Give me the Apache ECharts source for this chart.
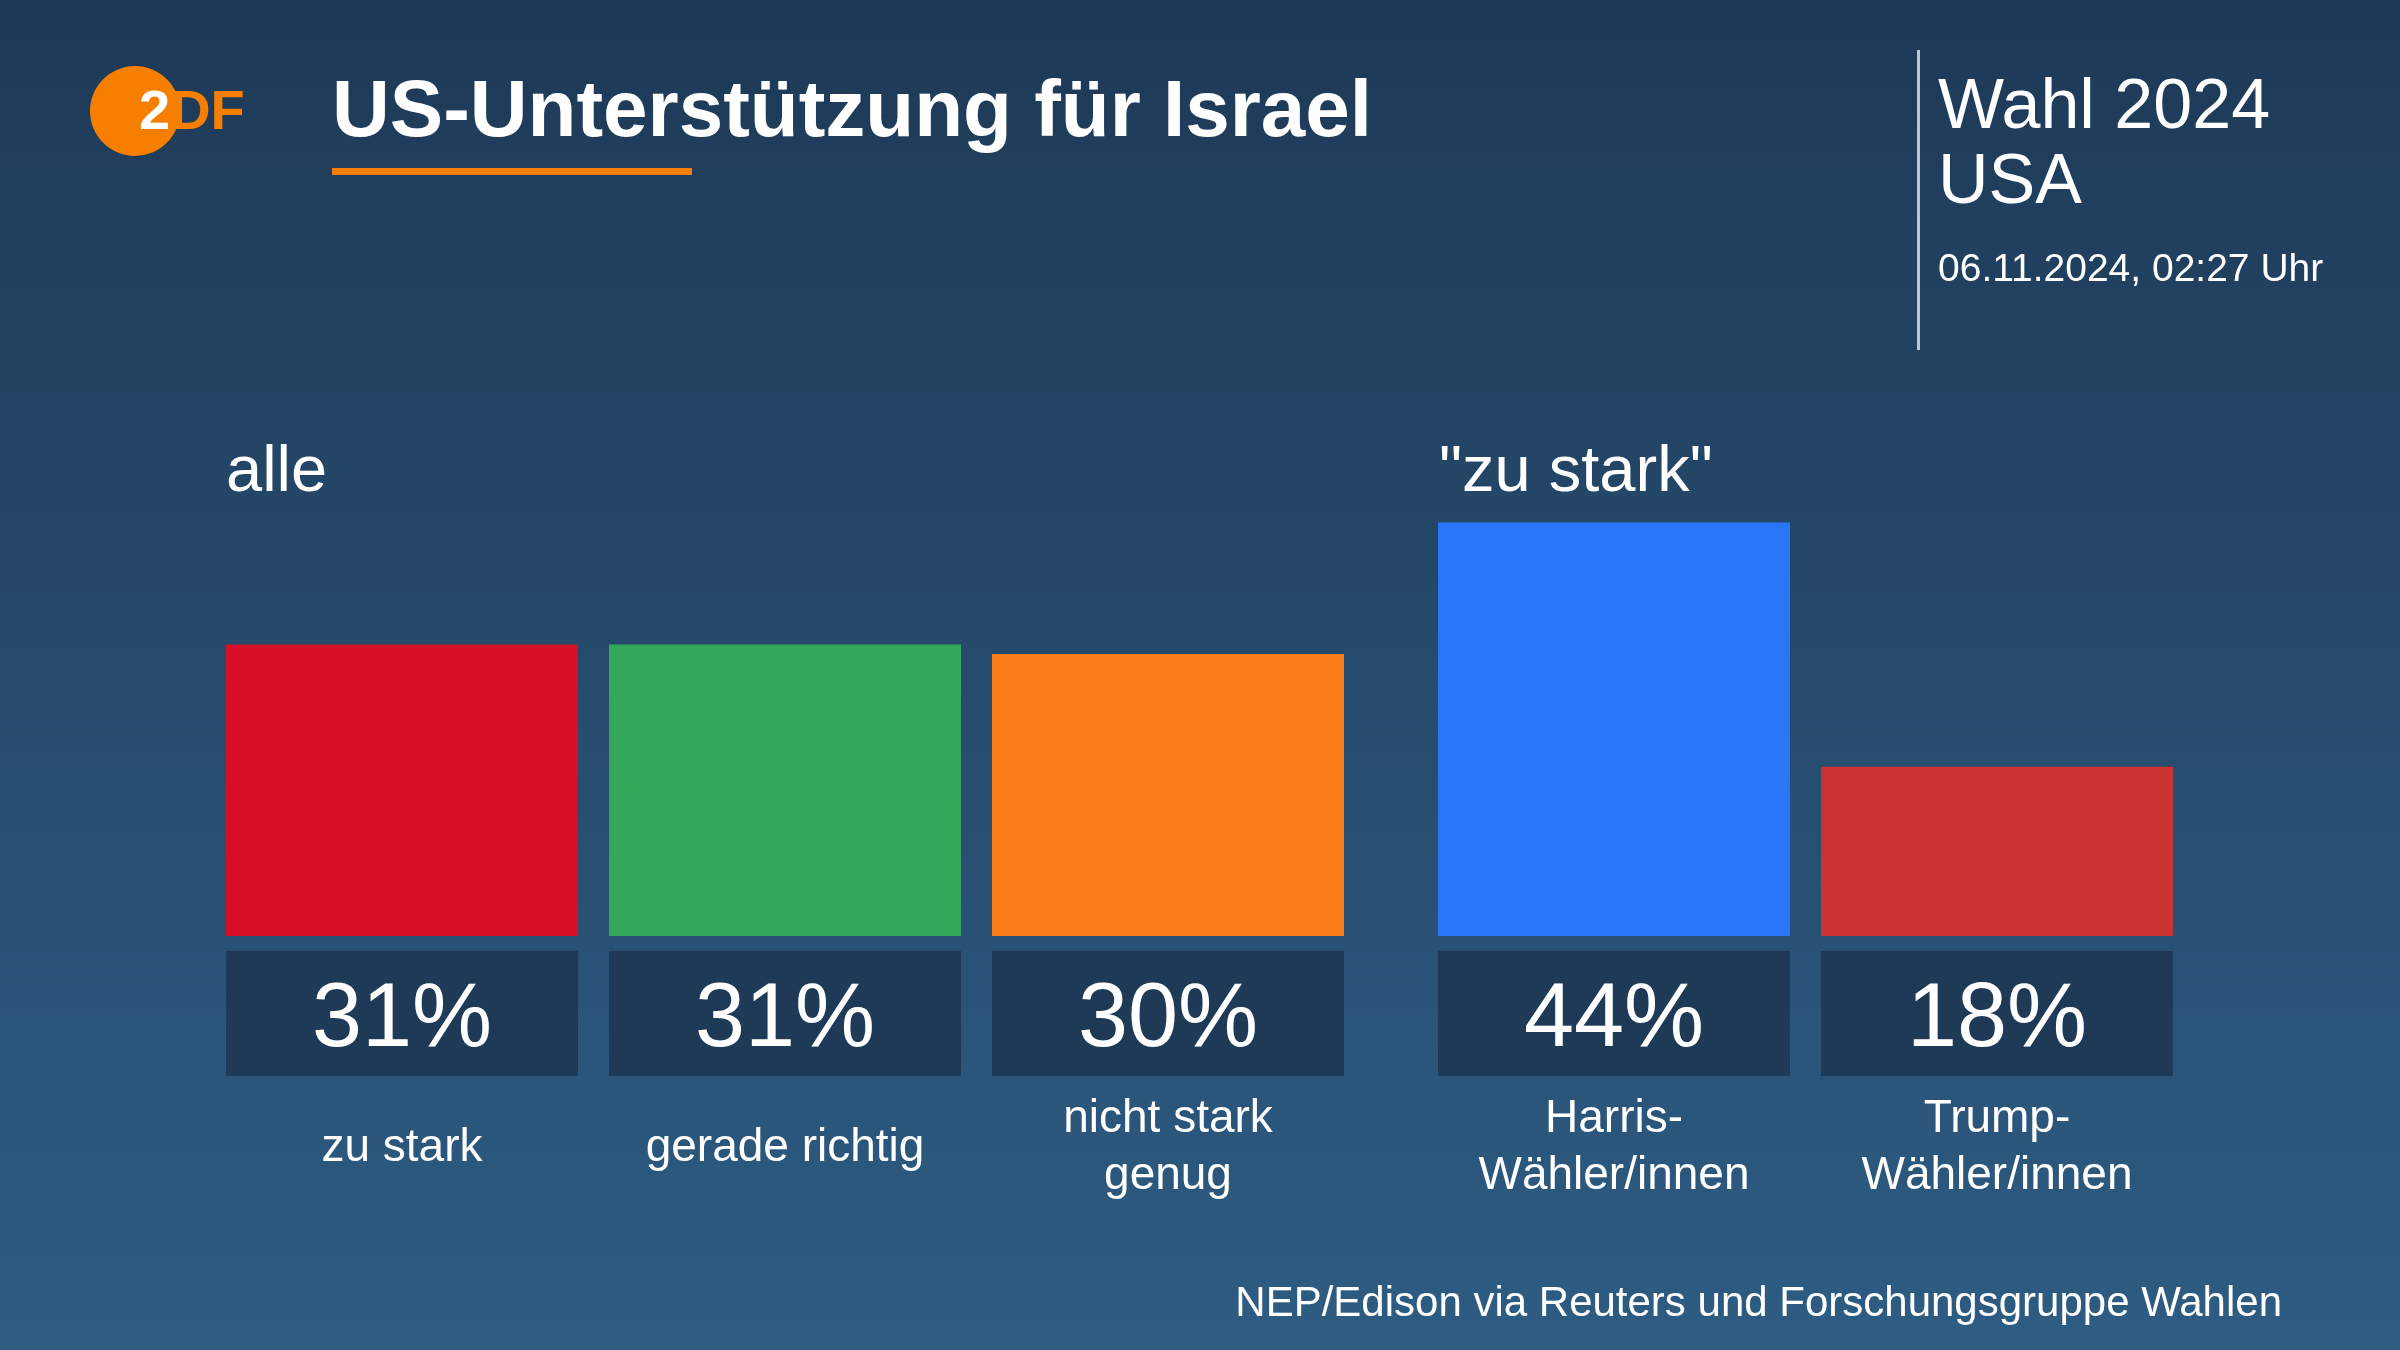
<!DOCTYPE html>
<html><head><meta charset="utf-8">
<script src="https://cdn.jsdelivr.net/npm/echarts@6/dist/echarts.min.js"></script>
<style>html,body{margin:0;padding:0;}#c{width:2400px;height:1350px;}</style>
</head><body><div id="c"></div>
<script>
var groupAllCategories = ['zu stark', 'gerade richtig', 'nicht stark\ngenug'];
var groupAllValues = [31, 31, 30];
var groupAllColors = ['#d50f25', '#33a85a', '#fa7d19'];
var groupStrongCategories = ['Harris-\nWähler/innen', 'Trump-\nWähler/innen'];
var groupStrongValues = [44, 18];
var groupStrongColors = ['#2a76f8', '#cb3333'];
var groupTitles = ['alle', '"zu stark"'];

var FONT = '"Liberation Sans", Arial, sans-serif';
var chart = echarts.init(document.getElementById('c'));

function makeSeries(idx, values, colors) {
  return {
    type: 'bar', xAxisIndex: idx, yAxisIndex: idx, barWidth: 352,
    data: values.map(function (v, i) { return { value: v, itemStyle: { color: colors[i] } }; }),
    label: {
      show: true, position: 'bottom', distance: 15, formatter: '{c}%',
      backgroundColor: '#1e3a57', width: 352, height: 109, lineHeight: 109, padding: [16, 0, 0, 0],
      align: 'center', verticalAlign: 'top',
      color: '#ffffff', fontSize: 90, fontFamily: FONT
    },
    silent: true, animation: false
  };
}
function makeX(idx, cats) {
  return {
    type: 'category', gridIndex: idx, data: cats,
    axisLine: { show: false }, axisTick: { show: false },
    axisLabel: { color: '#ffffff', fontSize: 46, fontFamily: FONT, margin: 212, verticalAlign: 'middle', lineHeight: 57, interval: 0 }
  };
}
function makeY(idx) {
  return { type: 'value', gridIndex: idx, min: 0, max: 50, show: false, splitLine: { show: false } };
}

chart.setOption({
  backgroundColor: {
    type: 'linear', x: 0, y: 0, x2: 0, y2: 1,
    colorStops: [{ offset: 0, color: '#1e3957' }, { offset: 1, color: '#2e5c82' }]
  },
  grid: [
    { left: 210.5, width: 1149, top: 466, height: 470 },
    { left: 1422.5, width: 766, top: 466, height: 470 }
  ],
  xAxis: [makeX(0, groupAllCategories), makeX(1, groupStrongCategories)],
  yAxis: [makeY(0), makeY(1)],
  series: [makeSeries(0, groupAllValues, groupAllColors), makeSeries(1, groupStrongValues, groupStrongColors)],
  graphic: [
    { type: 'circle', shape: { cx: 135, cy: 111, r: 45 }, style: { fill: '#f77f00' } },
    { type: 'text', x: 139, y: 114, style: { text: '{a|2}{b|DF}', verticalAlign: 'middle', rich: {
      a: { fill: '#ffffff', fontSize: 56, fontWeight: 'bold', fontFamily: FONT },
      b: { fill: '#f77f00', fontSize: 56, fontWeight: 'bold', fontFamily: FONT } } } },
    { type: 'text', x: 332, y: 114, style: { text: 'US-Unterstützung für Israel', fill: '#ffffff', fontSize: 80, fontWeight: 'bold', fontFamily: FONT, verticalAlign: 'middle' } },
    { type: 'rect', shape: { x: 332, y: 168, width: 360, height: 7 }, style: { fill: '#f77f00' } },
    { type: 'rect', shape: { x: 1917, y: 50, width: 3, height: 300 }, style: { fill: '#b9c6d3' } },
    { type: 'text', x: 1938, y: 109, style: { text: 'Wahl 2024', fill: '#ffffff', fontSize: 70, fontFamily: FONT, verticalAlign: 'middle' } },
    { type: 'text', x: 1938, y: 184, style: { text: 'USA', fill: '#ffffff', fontSize: 70, fontFamily: FONT, verticalAlign: 'middle' } },
    { type: 'text', x: 1938, y: 270, style: { text: '06.11.2024, 02:27 Uhr', fill: '#ffffff', fontSize: 39, fontFamily: FONT, verticalAlign: 'middle' } },
    { type: 'text', x: 226, y: 473, style: { text: groupTitles[0], fill: '#ffffff', fontSize: 65, fontFamily: FONT, verticalAlign: 'middle' } },
    { type: 'text', x: 1439, y: 473, style: { text: groupTitles[1], fill: '#ffffff', fontSize: 65, fontFamily: FONT, verticalAlign: 'middle' } },
    { type: 'text', x: 2282, y: 1304, style: { text: 'NEP/Edison via Reuters und Forschungsgruppe Wahlen', fill: '#ffffff', fontSize: 42, fontFamily: FONT, align: 'right', verticalAlign: 'middle' } }
  ]
});
</script></body></html>
